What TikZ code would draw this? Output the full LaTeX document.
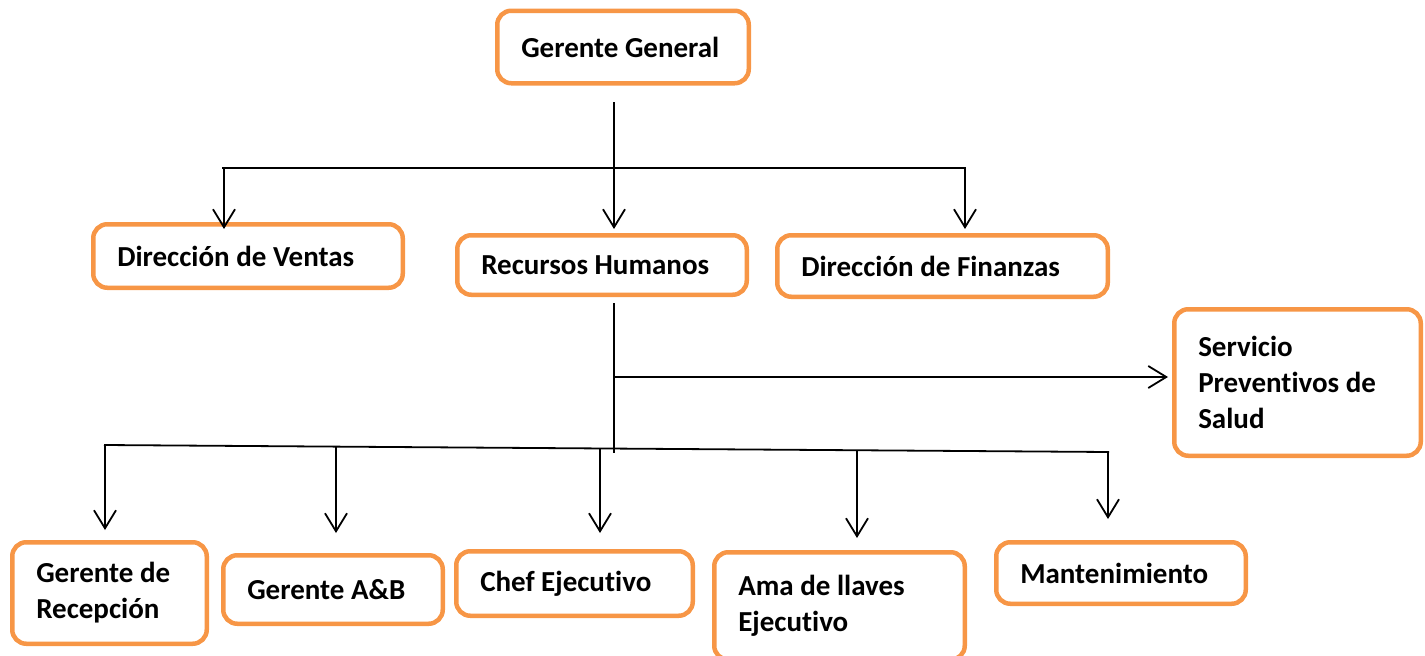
\documentclass[tikz,border=0pt]{standalone}
\usepackage{fontspec}
\setmainfont{Carlito}[Ligatures=NoCommon]
\usetikzlibrary{arrows.meta}
\definecolor{boxorange}{HTML}{F79646}
\begin{document}
\begin{tikzpicture}[x=1pt,y=-1pt,
  box/.style={draw=boxorange, line width=4.5pt, rounded corners=14pt, fill=white,
    align=flush left, inner xsep=24pt, inner ysep=0pt, anchor=center,
    font=\bfseries\fontsize{29}{36}\selectfont},
  conn/.style={line width=1.8pt, draw=black},
  arr/.style={conn, -{Straight Barb[length=18pt,width=22pt,line width=1.8pt]}}]
\useasboundingbox (0,0) rectangle (1425,656);
\clip (0,0) rectangle (1425,656);
% boxes
\node[box, text width=203.5pt, minimum height=72.5pt] (gg) at (623,47) {Gerente General};
\node[box, text width=261.5pt, minimum height=63.5pt] (ventas) at (248,256) {Dirección de Ventas};
\node[box, text width=241.5pt, minimum height=59.5pt] (rh) at (602,265) {Recursos Humanos};
\node[box, text width=282.5pt, minimum height=61.5pt] (fin) at (942.5,266) {Dirección de Finanzas};
\node[box, text width=198.5pt, minimum height=146.5pt] (serv) at (1297.5,382.5) {Servicio\\Preventivos de\\Salud};
\node[box, text width=146.5pt, minimum height=101.5pt] (rec) at (109.5,593) {Gerente de\\Recepción};
\node[box, text width=171.5pt, minimum height=68.5pt] (ab) at (333,589.5) {Gerente A\&B};
\node[box, text width=188.5pt, minimum height=64.5pt] (chef) at (574.5,583.5) {Chef Ejecutivo};
\node[box, text width=202.5pt, minimum height=107.5pt] (ama) at (839.5,606) {Ama de llaves\\Ejecutivo};
\node[box, text width=201.5pt, minimum height=61.5pt] (mant) at (1121,573) {Mantenimiento};
% top branch coordinates
\coordinate (g0) at (614,102);
\coordinate (gL) at (222,168);
\coordinate (gR) at (966,168);
\coordinate (gV) at (224,168);
\coordinate (gVt) at (224,229);
\coordinate (gF) at (965,168);
\coordinate (gFt) at (965,229);
\coordinate (gRt) at (614,229);
% upper connectors
\draw[arr] (g0) -- (gRt);
\draw[conn] (gL) -- (gR);
\draw[arr] (gV) -- (gVt);
\draw[arr] (gF) -- (gFt);
% lower coordinates
\coordinate (r0) at (614,303);
\coordinate (r1) at (614,453);
\coordinate (s0) at (614,377);
\coordinate (s1) at (1168,377);
\coordinate (hL) at (104,445);
\coordinate (hR) at (1109,452);
\coordinate (a1) at (105,445.2); \coordinate (a1t) at (105,530);
\coordinate (a2) at (336,446.8); \coordinate (a2t) at (336,533);
\coordinate (a3) at (600,448.6); \coordinate (a3t) at (600,533);
\coordinate (a4) at (857,450.3); \coordinate (a4t) at (857,538);
\coordinate (a5) at (1108,452);  \coordinate (a5t) at (1108,519);
\draw[conn] (r0) -- (r1);
\draw[arr] (s0) -- (s1);
\draw[conn] (hL) -- (hR);
\draw[arr] (a1) -- (a1t);
\draw[arr] (a2) -- (a2t);
\draw[arr] (a3) -- (a3t);
\draw[arr] (a4) -- (a4t);
\draw[arr] (a5) -- (a5t);
\end{tikzpicture}
\end{document}
